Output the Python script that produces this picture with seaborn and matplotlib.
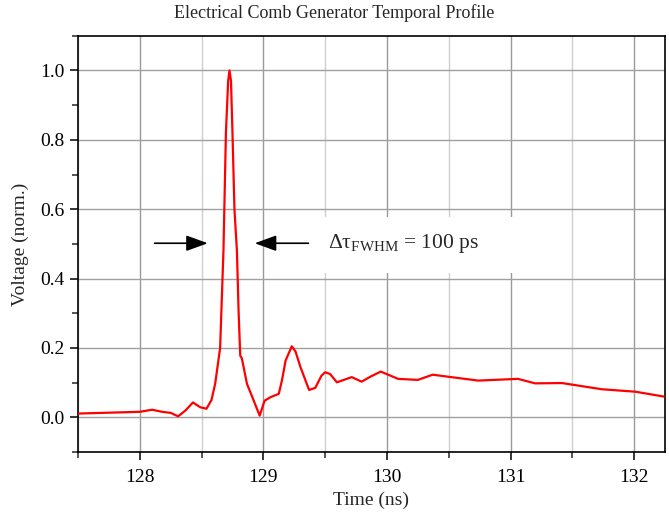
import matplotlib
matplotlib.use("Agg")
import matplotlib.pyplot as plt
import seaborn as sns
import pandas as pd
from matplotlib.ticker import MultipleLocator
from matplotlib.patches import Rectangle

# Data
time_ns = [127.5, 127.7, 127.9, 128.0, 128.1, 128.18, 128.25, 128.31, 128.37, 128.43,
           128.49, 128.54, 128.58, 128.61, 128.65, 128.677, 128.697, 128.715, 128.726,
           128.738, 128.75, 128.766, 128.786, 128.80, 128.813, 128.826, 128.867, 128.92,
           128.97, 129.01, 129.057, 129.125, 129.15, 129.18, 129.23, 129.26, 129.30,
           129.37, 129.42, 129.47, 129.50, 129.54, 129.595, 129.715, 129.795, 129.87,
           129.95, 130.09, 130.25, 130.37, 130.52, 130.74, 131.06, 131.2, 131.415,
           131.74, 132.01, 132.24]
voltage = [0.011, 0.013, 0.015, 0.016, 0.022, 0.016, 0.013, 0.003, 0.02, 0.043,
           0.029, 0.025, 0.05, 0.097, 0.2, 0.48, 0.82, 0.97, 1.0,
           0.97, 0.82, 0.6, 0.48, 0.3, 0.178, 0.17, 0.097, 0.05,
           0.005, 0.048, 0.058, 0.068, 0.106, 0.164, 0.205, 0.19, 0.145,
           0.079, 0.085, 0.12, 0.13, 0.125, 0.101, 0.116, 0.103, 0.118,
           0.132, 0.111, 0.108, 0.123, 0.116, 0.106, 0.111, 0.098, 0.099,
           0.081, 0.074, 0.06]

title = "Electrical Comb Generator Temporal Profile"
xlabel = "Time (ns)"
ylabel = "Voltage (norm.)"
annotation = "Δτ$_{\\mathrm{FWHM}}$ = 100 ps"

sns.set_theme(style="white")
plt.rcParams["font.family"] = ["Liberation Serif", "DejaVu Serif"]
plt.rcParams["mathtext.fontset"] = "custom"
plt.rcParams["mathtext.rm"] = "Liberation Serif"
plt.rcParams["mathtext.it"] = "Liberation Serif:italic"

df = pd.DataFrame({"t": time_ns, "v": voltage})

fig = plt.figure(figsize=(6.69, 5.19), dpi=100)
ax = fig.add_axes([0.1166, 0.129, 0.8774, 0.802])

sns.lineplot(data=df, x="t", y="v", ax=ax, color="#ff0000", linewidth=1.6, zorder=3)

ax.set_xlim(127.5, 132.25)
ax.set_ylim(-0.1, 1.1)
ax.xaxis.set_major_locator(MultipleLocator(1))
ax.xaxis.set_minor_locator(MultipleLocator(0.5))
ax.yaxis.set_major_locator(MultipleLocator(0.2))
ax.yaxis.set_minor_locator(MultipleLocator(0.1))
ax.yaxis.set_major_formatter(matplotlib.ticker.FormatStrFormatter("%.1f"))

ax.grid(which="major", axis="x", color="#9a9a9a", linewidth=1.0)
ax.grid(which="minor", axis="x", color="#cfcfcf", linewidth=1.0)
ax.grid(which="major", axis="y", color="#a0a0a0", linewidth=1.0)
ax.set_axisbelow(True)

for s in ax.spines.values():
    s.set_visible(True)
    s.set_color("black")
    s.set_linewidth(1.2)

ax.tick_params(axis="both", which="major", direction="out", length=6, width=1.1,
               labelsize=14, colors="black", bottom=True, left=True, top=False, right=False)
ax.tick_params(axis="both", which="minor", direction="out", length=4, width=1.1,
               bottom=True, left=True, top=False, right=False)
ax.tick_params(axis="x", which="major", pad=6)

ax.set_xlabel(xlabel, fontsize=14, labelpad=4)
ax.set_ylabel(ylabel, fontsize=14, labelpad=8)
fig.text(0.5, 1 - 13 / 519, title, fontsize=13, ha="center", va="center")

# white background box behind the annotation text (covers grid lines)
ax.add_patch(Rectangle((129.45, 0.416), 1.8, 0.163, facecolor="white",
                       edgecolor="none", zorder=1))

arrow_kw = dict(arrowstyle="-|>,head_length=1.1,head_width=0.4", color="black",
                linewidth=1.2, shrinkA=0, shrinkB=0)
ax.annotate("", xy=(128.55, 0.502), xytext=(128.12, 0.502), arrowprops=arrow_kw, zorder=4)
ax.annotate("", xy=(128.93, 0.502), xytext=(129.365, 0.502), arrowprops=arrow_kw, zorder=4)

ax.text(129.52, 0.502, annotation, fontsize=15.5, va="center", ha="left", zorder=4)

fig.savefig("out.png", dpi=100)
